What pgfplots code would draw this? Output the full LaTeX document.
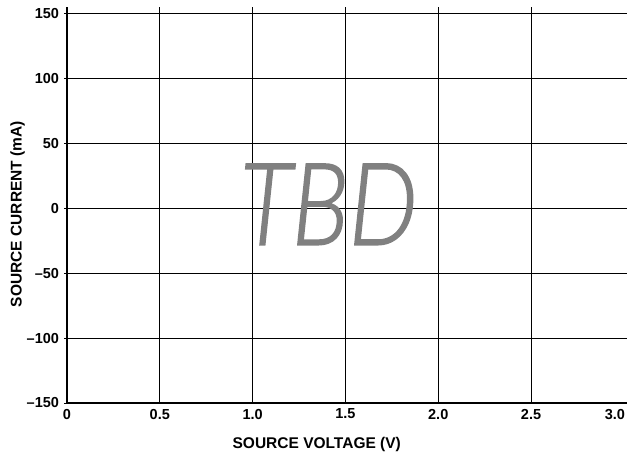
\documentclass[border=0pt]{standalone}
\usepackage{fontspec}
\setmainfont{Liberation Sans}
\newfontfamily\tbdfont{Lato}[UprightFont=* Light Italic, FakeBold=1.5]
\usepackage{pgfplots}
\pgfplotsset{compat=1.18}
\begin{document}
\begin{tikzpicture}
\useasboundingbox (0,0) rectangle (629bp,456bp);
\begin{axis}[
  at={(67bp,53bp)}, anchor=south west,
  scale only axis, width=560bp, height=396bp,
  xmin=0, xmax=3.017, ymin=-150, ymax=155,
  axis x line=bottom, axis y line=left,
  axis line style={-, line width=1.3bp, black},
  every outer x axis line/.append style={-},
  every outer y axis line/.append style={-},
  xtick={0,0.5,1,1.5,2,2.5},
  xticklabels={0,0.5,1.0,1.5,2.0,2.5},
  extra x ticks={3},
  extra x tick labels={3.0},
  extra x tick style={grid=none, xticklabel style={xshift=-9bp}},
  ytick={-150,-100,-50,0,50,100,150},
  yticklabels={--150,--100,--50,0,50,100,150},
  grid=major,
  major grid style={black, line width=0.7bp},
  tick align=outside,
  xtick style={draw=none},
  ytick style={black, line width=0.7bp},
  major tick length=2.5bp,
  tick label style={font=\fontsize{14.5bp}{16bp}\selectfont\bfseries},
  yticklabel style={xshift=-2bp},
  /pgf/number format/assume math mode=true,
  xlabel={SOURCE VOLTAGE (V)},
  ylabel={SOURCE CURRENT (mA)},
  label style={font=\fontsize{15.5bp}{17bp}\selectfont\bfseries},
  xlabel style={at={(axis description cs:0.446,-0.104)}, anchor=center},
  ylabel style={at={(axis description cs:-0.088,0.477)}, anchor=center},
]
\addplot[draw=none] coordinates {(0,0)};
\node[text=gray, font=\tbdfont\fontsize{114bp}{114bp}\selectfont, xscale=0.85, transform shape] at (axis cs:1.41,3) {TBD};
\end{axis}
\end{tikzpicture}
\end{document}
